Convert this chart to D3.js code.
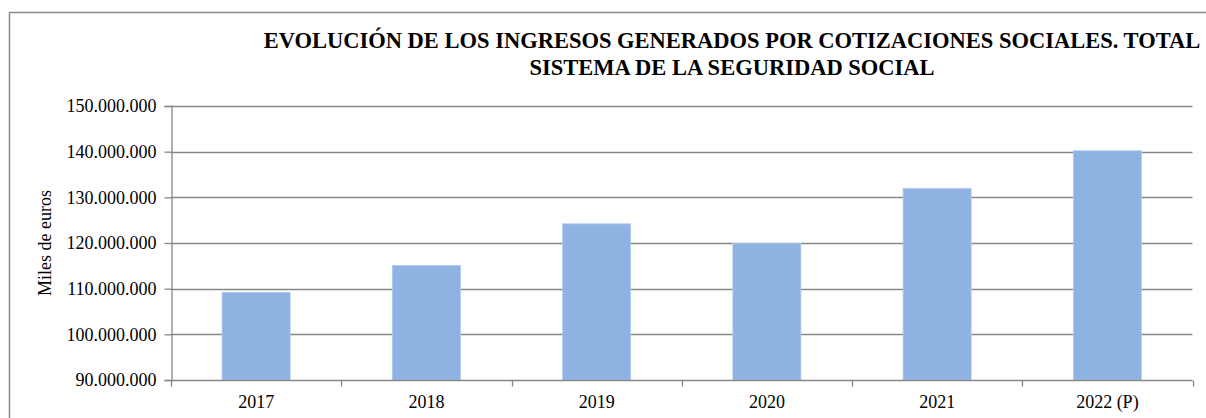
<!DOCTYPE html>
<html>
<head>
<meta charset="utf-8">
<script src="https://cdn.jsdelivr.net/npm/d3@7"></script>
<style>
  html, body { margin: 0; padding: 0; background: #ffffff; }
  svg { display: block; }
  text { font-family: "Liberation Serif", "Times New Roman", serif; fill: #000; }
</style>
</head>
<body>
<svg id="chart" width="1206" height="418"></svg>
<script>
// Ingresos por cotizaciones sociales (miles de euros)
const years = ["2017", "2018", "2019", "2020", "2021", "2022 (P)"];
const ingresos = [109200000, 115100000, 124200000, 119900000, 131950000, 140200000];
const yTicks = [90000000, 100000000, 110000000, 120000000, 130000000, 140000000, 150000000];
const titleLines = [
  "EVOLUCIÓN DE LOS INGRESOS GENERADOS POR COTIZACIONES SOCIALES. TOTAL",
  "SISTEMA DE LA SEGURIDAD SOCIAL"
];
const yTitle = "Miles de euros";

const svg = d3.select("#chart");
const W = 1206, H = 418;
const plot = { left: 171, right: 1192.5, top: 106, bottom: 380 };
const gridColor = "#878787";

// outer chart frame (runs off the right and bottom edges)
svg.append("rect")
  .attr("x", 9.5).attr("y", 12.5)
  .attr("width", 1400).attr("height", 600)
  .attr("fill", "none")
  .attr("stroke", "#8a8a8a")
  .attr("stroke-width", 1.5);

const x = d3.scaleBand()
  .domain(years)
  .range([plot.left, plot.right])
  .paddingInner(0.6)
  .paddingOuter(0.3);

const y = d3.scaleLinear()
  .domain([90000000, 150000000])
  .range([plot.bottom, plot.top]);

const fmt = v => d3.format(",")(v).replace(/,/g, ".");

// horizontal gridlines
svg.append("g")
  .selectAll("line")
  .data(yTicks.slice(1))
  .join("line")
  .attr("x1", plot.left).attr("x2", plot.right)
  .attr("y1", d => Math.round(y(d)) + 0.5).attr("y2", d => Math.round(y(d)) + 0.5)
  .attr("stroke", gridColor)
  .attr("stroke-width", 1.3);

// bars
svg.append("g")
  .selectAll("rect")
  .data(years.map((c, i) => ({ c, v: ingresos[i] })))
  .join("rect")
  .attr("x", d => x(d.c))
  .attr("y", d => y(d.v))
  .attr("width", x.bandwidth())
  .attr("height", d => y(90000000) - y(d.v))
  .attr("fill", "#8eb3e2")
  .attr("stroke", "#b4cbea")
  .attr("stroke-width", 0.8);

// y axis
const yAxis = svg.append("g")
  .attr("transform", `translate(${plot.left + 0.5},0)`)
  .call(d3.axisLeft(y).tickValues(yTicks).tickFormat(fmt).tickSizeOuter(0).tickSize(7).tickPadding(8));
yAxis.select(".domain").attr("stroke", gridColor).attr("stroke-width", 1.3);
yAxis.selectAll(".tick line").attr("stroke", gridColor).attr("stroke-width", 1.3);
yAxis.selectAll(".tick text")
  .style("font-family", '"Liberation Serif", "Times New Roman", serif')
  .style("font-size", "18px")
  .attr("fill", "#000");

// x axis: ticks at category boundaries
const xAxisG = svg.append("g")
  .attr("transform", `translate(0,${plot.bottom + 0.5})`);
xAxisG.append("line")
  .attr("x1", plot.left).attr("x2", plot.right)
  .attr("stroke", gridColor).attr("stroke-width", 1.3);
const boundaries = years.map(c => x(c) - x.step() * x.paddingInner() / 2 - 0 )
  .map((b, i) => plot.left + i * x.step())
  .concat([plot.right]);
xAxisG.selectAll("line.tk")
  .data(boundaries)
  .join("line")
  .attr("class", "tk")
  .attr("x1", d => Math.round(d) + 0.5).attr("x2", d => Math.round(d) + 0.5)
  .attr("y1", 0).attr("y2", 6)
  .attr("stroke", gridColor).attr("stroke-width", 1.3);
xAxisG.selectAll("text")
  .data(years)
  .join("text")
  .attr("x", d => x(d) + x.bandwidth() / 2)
  .attr("y", 27)
  .attr("text-anchor", "middle")
  .style("font-size", "18px")
  .text(d => d);

// y axis title
svg.append("text")
  .attr("transform", `translate(51,243) rotate(-90)`)
  .attr("text-anchor", "middle")
  .style("font-size", "18px")
  .text(yTitle);

// chart title
svg.append("g")
  .selectAll("text")
  .data(titleLines)
  .join("text")
  .attr("x", 732)
  .attr("y", (d, i) => 48 + i * 27)
  .attr("text-anchor", "middle")
  .style("font-size", "22.5px")
  .style("font-weight", "bold")
  .text(d => d);
</script>
</body>
</html>
